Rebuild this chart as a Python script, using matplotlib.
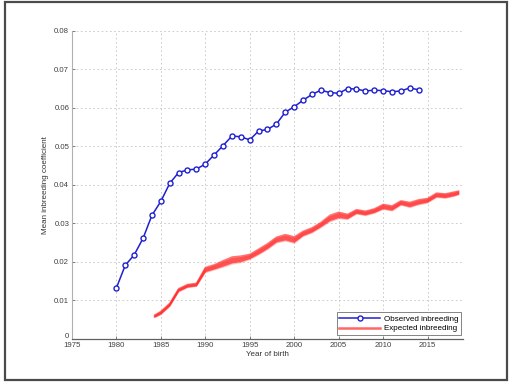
import matplotlib
matplotlib.use("Agg")
import matplotlib.pyplot as plt
import matplotlib.transforms as mtransforms
from matplotlib.patches import Rectangle
from matplotlib.lines import Line2D
import numpy as np

# Observed mean inbreeding by year of birth
obs_years = list(range(1980, 2015))
obs_values = [0.0132, 0.0191, 0.0218, 0.0261, 0.0321, 0.0357, 0.0404, 0.0432,
              0.0439, 0.0441, 0.0454, 0.0478, 0.0502, 0.0527, 0.0525, 0.0517,
              0.0540, 0.0544, 0.0558, 0.0589, 0.0603, 0.0620, 0.0635, 0.0646,
              0.0640, 0.0638, 0.0650, 0.0649, 0.0644, 0.0646, 0.0645, 0.0642,
              0.0644, 0.0652, 0.0647]

# Expected inbreeding (simulated), centre line and band half-width
exp_years = [1984.3, 1985, 1986, 1987, 1988, 1989, 1990, 1991, 1992, 1993,
             1994, 1995, 1996, 1997, 1998, 1999, 2000, 2001, 2002, 2003,
             2004, 2005, 2006, 2007, 2008, 2009, 2010, 2011, 2012, 2013,
             2014, 2015, 2016, 2017, 2018, 2018.5]
exp_values = [0.0059, 0.0068, 0.0089, 0.0127, 0.0138, 0.0141, 0.0180, 0.0187,
              0.0196, 0.0205, 0.0208, 0.0214, 0.0227, 0.0241, 0.0258, 0.0264,
              0.0258, 0.0274, 0.0283, 0.0297, 0.0314, 0.0322, 0.0318, 0.0331,
              0.0327, 0.0333, 0.0344, 0.0340, 0.0354, 0.0349, 0.0356, 0.0360,
              0.0374, 0.0372, 0.0377, 0.0380]
exp_spread = [0.0004, 0.0005, 0.0005, 0.0005, 0.0005, 0.0005, 0.0008, 0.0008,
              0.0010, 0.0011, 0.0010, 0.0008, 0.0009, 0.0009, 0.0009, 0.0010,
              0.0010, 0.0008, 0.0008, 0.0008, 0.0010, 0.0010, 0.0008, 0.0007,
              0.0007, 0.0007, 0.0008, 0.0008, 0.0007, 0.0008, 0.0008, 0.0007,
              0.0007, 0.0007, 0.0007, 0.0006]

x_ticks = [1975, 1980, 1985, 1990, 1995, 2000, 2005, 2010, 2015]
y_ticks = [0, 0.01, 0.02, 0.03, 0.04, 0.05, 0.06, 0.07, 0.08]
y_tick_labels = ["0", "0.01", "0.02", "0.03", "0.04", "0.05", "0.06", "0.07", "0.08"]

plt.rcParams["font.family"] = ["Liberation Sans", "DejaVu Sans"]

fig = plt.figure(figsize=(5.10, 3.82), dpi=100)
fig.patch.set_facecolor("white")

# outer frame
fig.patches.append(Rectangle((0.009, 0.004), 0.985, 0.992, transform=fig.transFigure,
                             fill=False, edgecolor="#4a4a4a", linewidth=1.6))

ax = fig.add_axes([0.141, 0.113, 0.767, 0.806])

ex = np.array(exp_years)
ev = np.array(exp_values)
es = np.array(exp_spread)
# soft band of simulated trajectories
ax.fill_between(ex, ev - es, ev + es, color="#ff5050", alpha=0.35, linewidth=0, zorder=3)
ax.fill_between(ex, ev - 0.6 * es, ev + 0.6 * es, color="#ff3030", alpha=0.45,
                linewidth=0, zorder=3)
for f in (-0.7, -0.35, 0.0, 0.35, 0.7):
    ax.plot(ex, ev + f * es, color="#ff2525", alpha=0.5, linewidth=1.0, zorder=3)

ax.plot(obs_years, obs_values, color="#2020d0", linewidth=1.1, marker="o",
        markersize=3.6, markerfacecolor="white", markeredgecolor="#2020d0",
        markeredgewidth=1.0, zorder=4)

ax.set_xlim(1975, 2019)
ax.set_ylim(0, 0.08)
ax.set_xticks(x_ticks)
ax.set_xticklabels([str(t) for t in x_ticks])
ax.set_yticks(y_ticks)
ax.set_yticklabels(y_tick_labels)

ax.grid(True, color="#c4c4c4", linestyle=(0, (2, 3)), linewidth=0.6)
ax.set_axisbelow(True)
for s in ("top", "right"):
    ax.spines[s].set_visible(False)
ax.spines["left"].set_color("#b0b0b0")
ax.spines["bottom"].set_color("#606060")
ax.spines["left"].set_linewidth(0.8)
ax.spines["bottom"].set_linewidth(0.9)

ax.tick_params(axis="both", direction="in", length=2.5, width=0.5, colors="#505050",
               labelsize=5.6, labelcolor="#404040", pad=2)

# lift the zero label a little so it clears the first year label
zero_lbl = ax.get_yticklabels()[0]
zero_lbl.set_transform(zero_lbl.get_transform() +
                       mtransforms.ScaledTranslation(0, 3 / 100, fig.dpi_scale_trans))

ax.set_xlabel("Year of birth", fontsize=5.8, color="#333333", labelpad=2)
ax.set_ylabel("Mean inbreeding coefficient", fontsize=5.8, color="#333333", labelpad=4)

handles = [
    Line2D([], [], color="#2020d0", linewidth=1.1, marker="o", markersize=3.6,
           markerfacecolor="white", markeredgewidth=1.0),
    Line2D([], [], color="#ff4040", linewidth=1.8, alpha=0.8),
]
leg = ax.legend(handles, ["Observed inbreeding", "Expected inbreeding"],
                loc="lower right", bbox_to_anchor=(0.995, 0.012), fontsize=5.8,
                frameon=True, fancybox=False, framealpha=1, edgecolor="#707070",
                borderpad=0.35, handlelength=5.0, handletextpad=0.5, labelspacing=0.25,
                borderaxespad=0.0)
leg.get_frame().set_linewidth(0.6)

fig.savefig("out.png", dpi=100, facecolor="white")
